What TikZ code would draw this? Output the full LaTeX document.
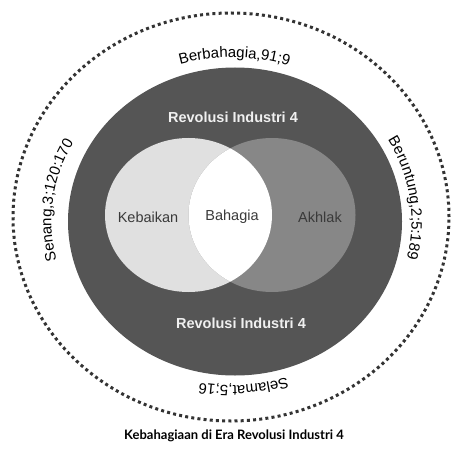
\documentclass[tikz,border=0pt]{standalone}
\usepackage{fontspec}
\setsansfont{Liberation Sans}
\newfontfamily\capfont{Lato}
\usetikzlibrary{decorations.text}
\definecolor{ringgray}{HTML}{555555}
\definecolor{kebaikangray}{HTML}{E0E0E0}
\definecolor{akhlakgray}{HTML}{878787}
\definecolor{labelgray}{HTML}{3A3A3A}
\tikzset{
  arclabel/.style={decorate, decoration={text along path, text align=center,
    text={|\sffamily\fontsize{15}{15}\selectfont|#1}}},
  venntext/.style={font=\sffamily\fontsize{14.5}{14.5}\selectfont, text=labelgray},
  ringtext/.style={font=\sffamily\bfseries\fontsize{14.5}{14.5}\selectfont, text=white!94!black}
}

\begin{document}
\begin{tikzpicture}[x=1pt,y=1pt]
    \useasboundingbox (0,0) rectangle (452,-454);
    \coordinate (c_dot) at (231,-217);
    \coordinate (c_txt) at (231.5,-221.5);
    \coordinate (c_ring) at (235,-221.5);
    \coordinate (c_keb) at (188.5,-215);
    \coordinate (c_akh) at (272,-215);
    % outer dotted ring
    \draw[black!80, line width=3pt, dash pattern=on 3pt off 3.2pt] (c_dot) ellipse [x radius=218, y radius=204];
    % labels round the ring
    \path[arclabel={Berbahagia,91;9}] (c_txt) ++(135:180 and 164) arc [start angle=135, end angle=43, x radius=180, y radius=164];
    \path[arclabel={Beruntung,2;5:189}] (c_txt) ++(60:180 and 164) arc [start angle=60, end angle=-44, x radius=180, y radius=164];
    \path[arclabel={Selamat,5;16}] (c_txt) ++(320:180 and 164) arc [start angle=320, end angle=228, x radius=180, y radius=164];
    \path[arclabel={Senang,3;120:170}] (c_txt) ++(240:180 and 164) arc [start angle=240, end angle=106, x radius=180, y radius=164];
    % Revolusi Industri 4
    \fill[ringgray] (c_ring) ellipse [x radius=167, y radius=154];
    \fill[kebaikangray] (c_keb) ellipse [x radius=83.5, y radius=77];
    \fill[akhlakgray] (c_akh) ellipse [x radius=83.5, y radius=77];
    \begin{scope}
      \clip (c_keb) ellipse [x radius=83.5, y radius=77];
      \fill[white] (c_akh) ellipse [x radius=83.5, y radius=77];
    \end{scope}
    \node[ringtext] (ri_top) at (233,-117) {Revolusi Industri 4};
    \node[ringtext] (ri_bot) at (241,-323) {Revolusi Industri 4};
    \node[venntext] (kebaikan) at (148,-217) {Kebaikan};
    \node[venntext] (bahagia) at (232,-217) {Bahagia};
    \node[venntext] (akhlak) at (320,-217) {Akhlak};
    \node[font=\capfont\bfseries\fontsize{13}{13}\selectfont] (caption) at (234,-436) {Kebahagiaan di Era Revolusi Industri 4};
\end{tikzpicture}
\end{document}
